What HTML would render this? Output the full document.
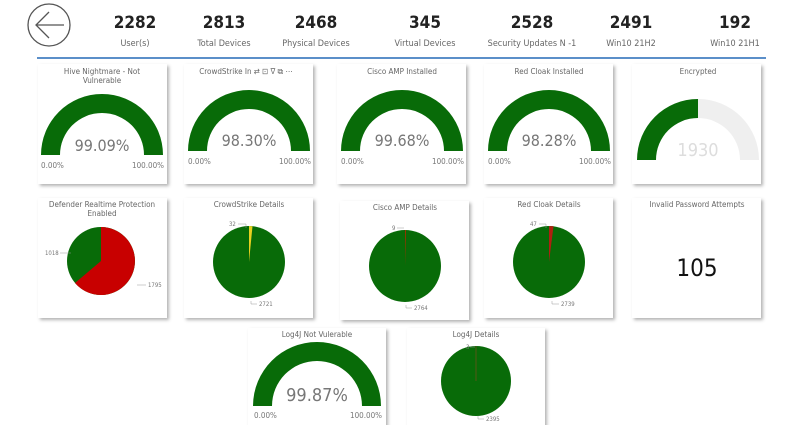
<!DOCTYPE html>
<html><head><meta charset="utf-8"><style>
body{margin:0;background:#fff;width:800px;height:425px;overflow:hidden}
svg{display:block;font-family:"DejaVu Sans Condensed","Liberation Sans",sans-serif}
.t{font-size:8px;fill:#666;text-anchor:middle}
.p{font-size:16px;fill:#777;text-anchor:middle;font-weight:300}
.s{font-size:8px;fill:#777}
.l{font-size:6px;fill:#777}
.n{font-size:17px;font-weight:bold;fill:#222;text-anchor:middle}
.h{font-size:9px;fill:#666;text-anchor:middle}
</style></head><body>
<svg width="800" height="425" viewBox="0 0 800 425">
<defs><filter id="sh" x="-10%" y="-10%" width="130%" height="130%"><feDropShadow dx="2" dy="2" stdDeviation="1.5" flood-color="#000" flood-opacity="0.3"/></filter></defs>
<!-- header -->
<circle cx="49" cy="25" r="21" fill="none" stroke="#555" stroke-width="1.3"/>
<path d="M36 25 H64 M49 12 L36 25 L49 38" fill="none" stroke="#555" stroke-width="1.3"/>
<text class="n" x="135" y="28">2282</text><text class="h" x="135" y="46">User(s)</text>
<text class="n" x="224" y="28">2813</text><text class="h" x="224" y="46">Total Devices</text>
<text class="n" x="316" y="28">2468</text><text class="h" x="316" y="46">Physical Devices</text>
<text class="n" x="425" y="28">345</text><text class="h" x="425" y="46">Virtual Devices</text>
<text class="n" x="532" y="28">2528</text><text class="h" x="532" y="46">Security Updates N -1</text>
<text class="n" x="631" y="28">2491</text><text class="h" x="631" y="46">Win10 21H2</text>
<text class="n" x="735" y="28">192</text><text class="h" x="735" y="46">Win10 21H1</text>
<rect x="37" y="57" width="729" height="2" fill="#5b8fc9"/>
<!-- cards -->
<g fill="#fff" filter="url(#sh)">
<rect x="38" y="64" width="129" height="120"/><rect x="184" y="64" width="129" height="120"/>
<rect x="337" y="64" width="129" height="120"/><rect x="484" y="64" width="129" height="120"/>
<rect x="632" y="64" width="129" height="120"/>
<rect x="38" y="198" width="129" height="120"/><rect x="184" y="198" width="129" height="120"/>
<rect x="340" y="201" width="129" height="119"/><rect x="484" y="198" width="129" height="120"/>
<rect x="632" y="198" width="129" height="120"/>
<rect x="248" y="328" width="138" height="100"/><rect x="407" y="328" width="138" height="100"/>
</g>
<!-- gauges -->
<g fill="#086b08">
<path d="M41 155 A61 61 0 0 1 163 155 L144 155 A42 42 0 0 0 60 155Z"/>
<path d="M188 151 A61 61 0 0 1 310 151 L291 151 A42 42 0 0 0 207 151Z"/>
<path d="M341 151 A61 61 0 0 1 463 151 L444 151 A42 42 0 0 0 360 151Z"/>
<path d="M488 151 A61 61 0 0 1 610 151 L591 151 A42 42 0 0 0 507 151Z"/>
<path d="M253 406 A64 64 0 0 1 381 406 L362 406 A45 45 0 0 0 272 406Z"/>
</g>
<path d="M698 99 A61 61 0 0 1 759 160 L740 160 A42 42 0 0 0 698 118Z" fill="#efefef"/>
<path d="M637 160 A61 61 0 0 1 698 99 L698 118 A42 42 0 0 0 656 160Z" fill="#086b08"/>
<text class="t" x="102" y="74">Hive Nightmare - Not</text><text class="t" x="102" y="83">Vulnerable</text>
<text class="p" x="102" y="151">99.09%</text><text class="s" x="41" y="168">0.00%</text><text class="s" x="164" y="168" text-anchor="end">100.00%</text>
<text class="t" x="246" y="74">CrowdStrike In ⇄ ⊡ ∇ ⧉ ⋯</text>
<text class="p" x="249" y="146">98.30%</text><text class="s" x="188" y="164">0.00%</text><text class="s" x="311" y="164" text-anchor="end">100.00%</text>
<text class="t" x="402" y="74">Cisco AMP Installed</text>
<text class="p" x="402" y="146">99.68%</text><text class="s" x="341" y="164">0.00%</text><text class="s" x="464" y="164" text-anchor="end">100.00%</text>
<text class="t" x="549" y="74">Red Cloak Installed</text>
<text class="p" x="549" y="146">98.28%</text><text class="s" x="488" y="164">0.00%</text><text class="s" x="611" y="164" text-anchor="end">100.00%</text>
<text class="t" x="698" y="74">Encrypted</text>
<text class="p" x="698" y="156" style="fill:#ddd;font-size:18px">1930</text>
<text class="t" x="317" y="337">Log4J Not Vulerable</text>
<text class="p" x="317" y="401" style="font-size:18px">99.87%</text><text class="s" x="254" y="418">0.00%</text><text class="s" x="382" y="418" text-anchor="end">100.00%</text>
<!-- pies -->
<text class="t" x="102" y="207">Defender Realtime Protection</text><text class="t" x="102" y="216">Enabled</text>
<circle cx="101" cy="261" r="34" fill="#086b08"/>
<path d="M101 261 L101 227 A34 34 0 1 1 75 283 Z" fill="#c80000"/>
<text class="l" x="45" y="255">1018</text><path d="M60 253 H71" stroke="#999" stroke-width=".5"/>
<text class="l" x="148" y="287">1795</text><path d="M137 285 H146" stroke="#999" stroke-width=".5"/>
<text class="t" x="249" y="207">CrowdStrike Details</text>
<circle cx="249" cy="262" r="36" fill="#086b08"/>
<path d="M249 262 L249 226 A36 36 0 0 1 252.5 226.2Z" fill="#e8d020"/>
<text class="l" x="229" y="226">32</text><path d="M238 224 H246 V228" stroke="#999" stroke-width=".5" fill="none"/>
<text class="l" x="259" y="306">2721</text><path d="M251 301 V304 H257" stroke="#999" stroke-width=".5" fill="none"/>
<text class="t" x="405" y="210">Cisco AMP Details</text>
<circle cx="405" cy="266" r="36" fill="#086b08"/>
<path d="M405 266 L405 230 L406 230Z" fill="#a03000"/>
<text class="l" x="392" y="230">9</text><path d="M397 228 H404" stroke="#999" stroke-width=".5"/>
<text class="l" x="414" y="310">2764</text><path d="M406 305 V308 H412" stroke="#999" stroke-width=".5" fill="none"/>
<text class="t" x="549" y="207">Red Cloak Details</text>
<circle cx="549" cy="262" r="36" fill="#086b08"/>
<path d="M549 262 L549 226 A36 36 0 0 1 553.5 226.3Z" fill="#b02010"/>
<text class="l" x="530" y="226">47</text><path d="M539 224 H546 V228" stroke="#999" stroke-width=".5" fill="none"/>
<text class="l" x="561" y="306">2739</text><path d="M552 301 V304 H559" stroke="#999" stroke-width=".5" fill="none"/>
<text class="t" x="697" y="207">Invalid Password Attempts</text>
<text x="697" y="276" style="font-size:24px;fill:#111;text-anchor:middle">105</text>
<text class="t" x="476" y="337">Log4J Details</text>
<circle cx="476" cy="381" r="35" fill="#086b08"/>
<path d="M476 381 V346" stroke="#8a4a20" stroke-width=".6"/>
<text class="l" x="466" y="349">3</text><path d="M470 347 H475" stroke="#999" stroke-width=".5"/>
<text class="l" x="486" y="421">2395</text><path d="M478 416 V419 H484" stroke="#999" stroke-width=".5" fill="none"/>
</svg>
</body></html>
